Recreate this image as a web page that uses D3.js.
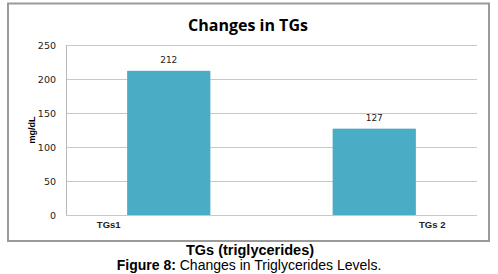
<!DOCTYPE html>
<html>
<head>
<meta charset="utf-8">
<script src="https://cdn.jsdelivr.net/npm/d3@7"></script>
<style>
  body { margin: 0; background: #fff; }
</style>
</head>
<body>
<div id="chart"></div>
<script>
// data
const categories = ['TGs1', 'TGs 2'];
const values = [212, 127];
const yTicks = [0, 50, 100, 150, 200, 250];

const width = 498, height = 274;
const plot = {left: 66, right: 477, top: 45, bottom: 215};

const svg = d3.select('#chart').append('svg')
    .attr('width', width)
    .attr('height', height);

// chart frame
svg.append('rect')
    .attr('x', 8).attr('y', 3.5)
    .attr('width', 481).attr('height', 237.5)
    .attr('fill', 'white')
    .attr('stroke', '#9a9a9a')
    .attr('stroke-width', 2);

svg.append('text')
    .attr('x', 248).attr('y', 31)
    .attr('text-anchor', 'middle')
    .style('font-family', 'Open Sans')
    .style('font-weight', 'bold')
    .style('font-size', '16px')
    .text('Changes in TGs');

let x = d3.scaleBand().domain(categories).range([plot.left, plot.right]).paddingInner(0).paddingOuter(0);
let y = d3.scaleLinear().domain([0, 250]).range([plot.bottom, plot.top]);

// gridlines + y labels
let yAxis = d3.axisLeft(y).tickValues(yTicks).tickSize(-(plot.right - plot.left)).tickPadding(10);
let gy = svg.append('g').attr('transform', `translate(${plot.left},0)`).call(yAxis);
gy.select('.domain').remove();
gy.selectAll('.tick line').attr('stroke', '#c8c8c8');
gy.selectAll('.tick text')
    .style('font-family', 'DejaVu Sans')
    .style('font-size', '9.5px')
    .attr('fill', '#222');

// axis line
svg.append('line')
    .attr('x1', plot.left + 0.5).attr('x2', plot.left + 0.5)
    .attr('y1', plot.top).attr('y2', plot.bottom)
    .attr('stroke', '#b8b8b8');

let barW = x.bandwidth() * 0.405;
svg.selectAll('.bar').data(values).enter()
    .append('rect')
    .attr('class', 'bar')
    .attr('x', (d, i)=>{return x(categories[i]) + x.bandwidth()/2 - barW/2})
    .attr('y', d=>y(d))
    .attr('width', barW)
    .attr('height', d=>y(0) - y(d))
    .attr('fill', '#4bacc6');

svg.selectAll('.val').data(values).enter()
    .append('text')
    .attr('x', (d, i)=>{return x(categories[i]) + x.bandwidth()/2})
    .attr('y', d=>y(d) - 8)
    .attr('text-anchor', 'middle')
    .style('font-family', 'DejaVu Sans')
    .style('font-size', '9px')
    .attr('fill', '#222')
    .text(d=>d);

// category labels sit off-centre in the original
let labelShift = [-60, 58];
svg.selectAll('.cat').data(categories).enter()
    .append('text')
    .attr('x', (d, i)=>{return x(d) + x.bandwidth()/2 + labelShift[i]})
    .attr('y', 228)
    .attr('text-anchor', 'middle')
    .style('font-family', 'Liberation Sans')
    .style('font-weight', 'bold')
    .style('font-size', '9.5px')
    .attr('fill', '#222')
    .text(d=>d);

svg.append('text')
    .attr('transform', 'translate(35,130) rotate(-90)')
    .attr('text-anchor', 'middle')
    .style('font-family', 'Liberation Sans')
    .style('font-weight', 'bold')
    .style('font-size', '9px')
    .text('mg/dL');

svg.append('text')
    .attr('x', 250).attr('y', 255)
    .attr('text-anchor', 'middle')
    .style('font-family', 'Liberation Sans')
    .style('font-weight', 'bold')
    .style('font-size', '14.5px')
    .text('TGs (triglycerides)');

let cap = svg.append('text')
    .attr('x', 249).attr('y', 270)
    .attr('text-anchor', 'middle')
    .style('font-family', 'Liberation Sans')
    .style('font-size', '14px');
cap.append('tspan').style('font-weight', 'bold').text('Figure 8:');
cap.append('tspan').text(' Changes in Triglycerides Levels.');
</script>
</body>
</html>
